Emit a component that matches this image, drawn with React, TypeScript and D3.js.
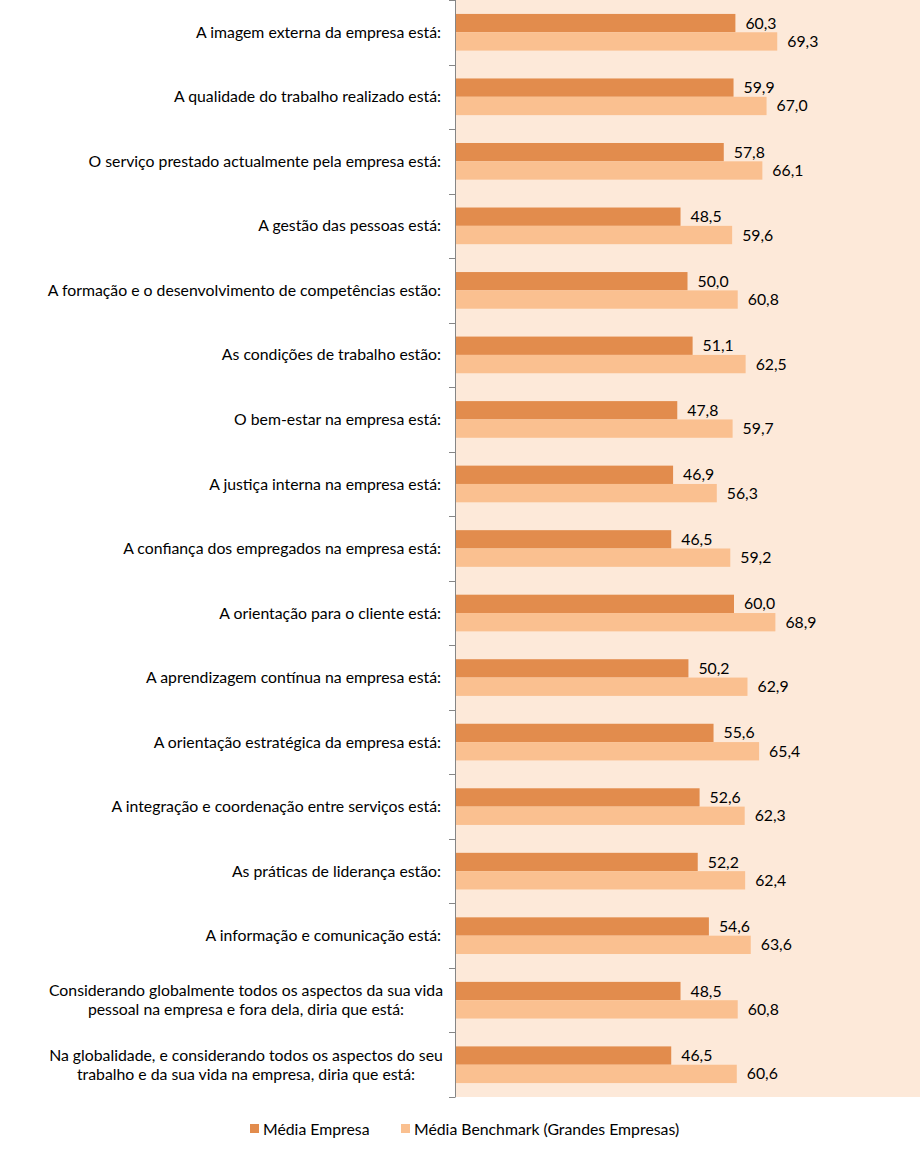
import React from "react";
import * as d3 from "d3";

const categories: string[] = [
  "A imagem externa da empresa está:",
  "A qualidade do trabalho realizado está:",
  "O serviço prestado actualmente pela empresa está:",
  "A gestão das pessoas está:",
  "A formação e o desenvolvimento de competências estão:",
  "As condições de trabalho estão:",
  "O bem-estar na empresa está:",
  "A justiça interna na empresa está:",
  "A confiança dos empregados na empresa está:",
  "A orientação para o cliente está:",
  "A aprendizagem contínua na empresa está:",
  "A orientação estratégica da empresa está:",
  "A integração e coordenação entre serviços está:",
  "As práticas de liderança estão:",
  "A informação e comunicação está:",
  "Considerando globalmente todos os aspectos da sua vida|pessoal na empresa e fora dela, diria que está:",
  "Na globalidade, e considerando todos os aspectos do seu|trabalho e da sua vida na empresa, diria que está:",
];

const mediaEmpresa: number[] = [60.3, 59.9, 57.8, 48.5, 50.0, 51.1, 47.8, 46.9, 46.5, 60.0, 50.2, 55.6, 52.6, 52.2, 54.6, 48.5, 46.5];
const mediaBenchmark: number[] = [69.3, 67.0, 66.1, 59.6, 60.8, 62.5, 59.7, 56.3, 59.2, 68.9, 62.9, 65.4, 62.3, 62.4, 63.6, 60.8, 60.6];

const seriesNames: string[] = ["Média Empresa", "Média Benchmark (Grandes Empresas)"];
const seriesColors: string[] = ["#E28C4D", "#FAC090"];

const W = 921;
const H = 1158;
const left = 455;
const right = 920;
const top = 0;
const bottom = 1097;
const FONT = "Lato, 'Open Sans', sans-serif";
const FS = 15.8;

export default function App() {
  const x = d3.scaleLinear().domain([0, 100]).range([left, right]);
  const y = d3.scaleBand<number>().domain(d3.range(categories.length)).range([top, bottom]).padding(0);
  const inner = d3.scaleBand<number>().domain([0, 1]).range([0, y.bandwidth()]).paddingInner(0).paddingOuter(0.76);
  const fmt = (v: number) => d3.format(".1f")(v).replace(".", ",");
  const series = [mediaEmpresa, mediaBenchmark];
  const ticks = d3.range(categories.length + 1).map((i) => (i < categories.length ? (y(i) as number) : bottom));

  return (
    <svg width={W} height={H} style={{ position: "absolute", left: 0, top: 0, background: "#fff" }} fontFamily={FONT}>
      <rect x={left} y={top} width={right - left} height={bottom - top} fill="#FDE9D9" />
      {categories.map((c, i) => {
        const y0 = y(i) as number;
        return (
          <g key={i}>
            {series.map((s, k) => {
              const by = y0 + (inner(k) as number);
              const bh = inner.bandwidth();
              return (
                <g key={k}>
                  <rect x={x(0)} y={by} width={x(s[i]) - x(0)} height={bh} fill={seriesColors[k]} />
                  <text x={x(s[i]) + 10} y={by + bh / 2} dy="0.35em" fontSize={FS} fill="#000">
                    {fmt(s[i])}
                  </text>
                </g>
              );
            })}
          </g>
        );
      })}
      <line x1={left + 0.5} x2={left + 0.5} y1={top} y2={bottom} stroke="#868686" strokeWidth={1} />
      {ticks.map((t, i) => (
        <line key={i} x1={left - 6} x2={left + 0.5} y1={Math.round(t) + 0.5} y2={Math.round(t) + 0.5} stroke="#868686" />
      ))}
      {categories.map((c, i) => {
        const lines = c.split("|");
        const cy = (y(i) as number) + y.bandwidth() / 2;
        if (lines.length === 1) {
          return (
            <text key={i} x={441} y={cy} dy="0.35em" textAnchor="end" fontSize={FS} fill="#000">
              {c}
            </text>
          );
        }
        return (
          <g key={i}>
            {lines.map((l, j) => (
              <text key={j} x={246} y={cy + (j - 0.5) * 19.5} dy="0.35em" textAnchor="middle" fontSize={FS} fill="#000">
                {l}
              </text>
            ))}
          </g>
        );
      })}
      <g>
        <rect x={250} y={1124} width={9} height={9} fill={seriesColors[0]} />
        <text x={263} y={1129} dy="0.35em" fontSize={FS} fill="#000">{seriesNames[0]}</text>
        <rect x={401} y={1124} width={9} height={9} fill={seriesColors[1]} />
        <text x={414} y={1129} dy="0.35em" fontSize={FS} fill="#000">{seriesNames[1]}</text>
      </g>
    </svg>
  );
}
